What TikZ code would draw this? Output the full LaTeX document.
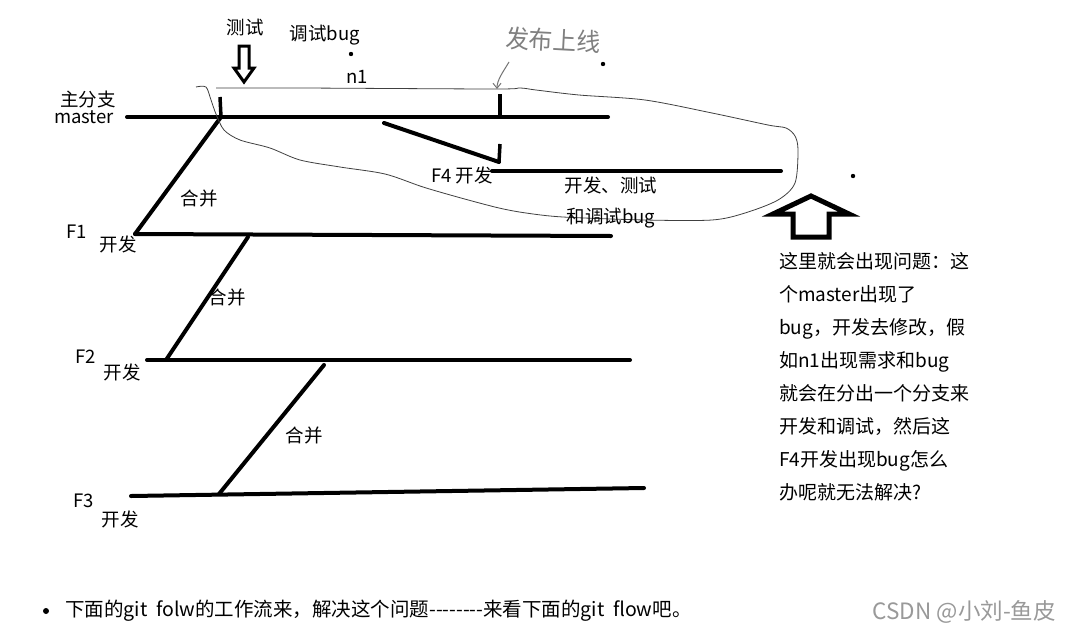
\documentclass[tikz,border=0pt]{standalone}
\usepackage{fontspec}
\setmainfont{Noto Sans CJK SC}
\usetikzlibrary{arrows.meta}
\tikzset{
  branch/.style={line width=4pt, line cap=round},
  tick/.style={line width=3.5pt},
  lbl/.style={inner sep=0pt, font=\fontsize{18.5}{20}\selectfont},
  hand/.style={draw=black!75, line width=0.8pt},
  hollow/.style={draw=black, fill=white, line join=miter},
}
\begin{document}
\begin{tikzpicture}[x=1pt,y=-1pt]
\useasboundingbox[fill=white] (0,0) rectangle (1070,632);
% coordinates
\coordinate (m0) at (127,117);
\coordinate (m1) at (608,117);
\coordinate (mA) at (221,117);
\coordinate (tA) at (220,97);
\coordinate (mB) at (500,117);
\coordinate (tB) at (500,94);
\coordinate (f4s) at (384,123);
\coordinate (f4k) at (499,162);
\coordinate (f4t) at (500,144);
\coordinate (f40) at (492,171);
\coordinate (f41) at (781,171);
\coordinate (f10) at (135,234);
\coordinate (f11) at (611,236);
\coordinate (f1m) at (248,237);
\coordinate (f20) at (147,360);
\coordinate (f21) at (630,360);
\coordinate (f2a) at (166,360);
\coordinate (f2m) at (324,365);
\coordinate (f30) at (131,496);
\coordinate (f31) at (644,488);
\coordinate (f3a) at (219,494);
% branches
\draw[branch] (m0) -- (m1);
\draw[tick] (tA) -- (mA);
\draw[tick] (tB) -- (mB);
\draw[branch] (mA) -- (f10);
\draw[branch] (f4s) -- (f4k);
\draw[tick] (f4t) -- (f4k);
\draw[branch] (f40) -- (f41);
\draw[branch] (f10) -- (f11);
\draw[branch] (f1m) -- (f2a);
\draw[branch] (f20) -- (f21);
\draw[branch] (f2m) -- (f3a);
\draw[branch] (f30) -- (f31);
% freehand enclosure
\draw[hand] plot[smooth, tension=0.5] coordinates {(196,87) (206,87) (211,100) (216,114) (224,130) (240,140) (270,148) (300,160) (340,167) (385,174) (423,187) (461,198) (499,208) (526,213) (563,217) (645,220) (712,220) (745,213) (778,200) (795,183) (798,150) (795,136) (786,128) (768,125) (712,113) (645,100) (579,95) (536,90) (520,88) (495,89) (300,88) (216,88)};
% labels
\node[lbl] (ts) at (245,27) {测试};
\node[lbl] (tsbug) at (325,35) {调试bug};
\fill (351,54) circle (2.2);
\node[lbl] (n1) at (357,77) {n1};
\fill (603,64) circle (2.2);
\fill (853,176) circle (2.2);
\node[lbl] (zfz) at (88,99) {主分支};
\node[lbl] (mst) at (84,117) {master};
\node[lbl] (f4l) at (462,175) {F4 开发};
\node[lbl] (kf) at (611,185) {开发、测试};
\node[lbl] (tsb) at (611,218) {和调试bug};
\node[lbl] (hb1) at (199,199) {合并};
\node[lbl] (hb2) at (227,298) {合并};
\node[lbl] (hb3) at (304,435) {合并};
\node[lbl] (F1) at (77,232) {F1};
\node[lbl] (K1) at (118,244) {开发};
\node[lbl] (F2) at (86,357) {F2};
\node[lbl] (K2) at (122,372) {开发};
\node[lbl] (F3) at (84,501) {F3};
\node[lbl] (K3) at (120,519) {开发};
% handwritten release label
\node[inner sep=0pt, text=black!50, font=\fontsize{25}{26}\selectfont, rotate=-3, xscale=0.95] (fb) at (553,40) {发布上线};
\coordinate (ga) at (509,62);
\coordinate (gb) at (497,89);
\draw[black!55, line width=1pt, -{Straight Barb[length=5pt,width=8pt]}] (ga) .. controls (503,72) and (497,80) .. (gb);
% hollow down arrow
\draw[hollow, line width=3pt] (239,46) -- (249,46) -- (249,68) -- (254,68) -- (244,82) -- (234,68) -- (239,68) -- cycle;
% hollow up arrow
\draw[hollow, line width=5pt] (811,196) -- (849,214) -- (829,214) -- (829,237) -- (793,237) -- (793,214) -- (773,214) -- cycle;
% explanation
\node[anchor=north west, inner sep=0pt, align=left, font=\fontsize{19}{33}\selectfont] (expl) at (779,252) {这里就会出现问题：这\\个master出现了\\bug，开发去修改，假\\如n1出现需求和bug\\就会在分出一个分支来\\开发和调试，然后这\\F4开发出现bug怎么\\办呢就无法解决?};
% bottom
\fill (46,611) circle (3);
\node[anchor=west, inner sep=0pt, font=\fontsize{19.5}{22}\selectfont] (bt) at (65,611) {下面的git\ \ folw的工作流来，解决这个问题-{}-{}-{}-{}-{}-{}-{}-来看下面的git\ \ flow吧。};
\node[anchor=east, inner sep=0pt, text=black!40, font=\fontsize{22.5}{24}\selectfont] (csdn) at (1056,612) {CSDN @小刘-鱼皮};
\end{tikzpicture}
\end{document}
